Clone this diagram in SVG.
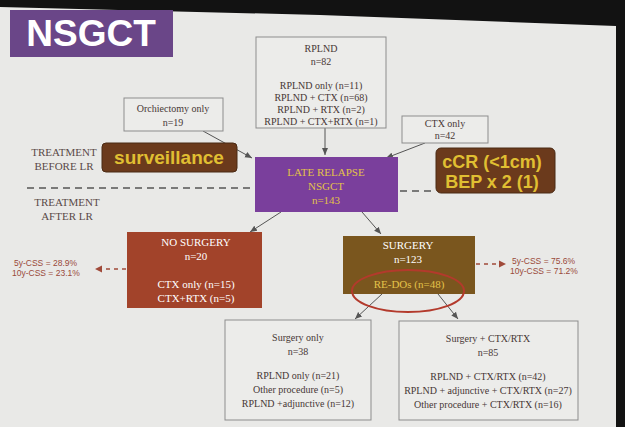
<svg xmlns="http://www.w3.org/2000/svg" width="625" height="427" viewBox="0 0 625 427">
<defs>
<style>
.t{font-family:"Liberation Serif",serif;font-size:10px;fill:#473735;text-anchor:middle}
.lbl{font-family:"Liberation Serif",serif;font-size:11px;fill:#5a4a48;text-anchor:middle}
.wb{fill:#ececea;stroke:#8d8d8d;stroke-width:1}
.w{font-family:"Liberation Serif",serif;font-size:11px;fill:#ffffff;text-anchor:middle}
.g{font-family:"Liberation Serif",serif;font-size:11px;fill:#e3c24a;text-anchor:middle}
.big{font-family:"Liberation Sans",Arial,sans-serif;font-weight:bold;fill:#e0bf32;text-anchor:middle}
.css{font-family:"Liberation Sans",Arial,sans-serif;font-size:8.5px;fill:#9a4a3a}
.c{stroke:#555;stroke-width:1;fill:none;marker-end:url(#ah)}
.d{stroke:#555;stroke-width:1.6;stroke-dasharray:7,5;fill:none}
.dr{stroke:#a04a3a;stroke-width:1.6;stroke-dasharray:4,4;fill:none}
</style>
<marker id="ah" markerWidth="8" markerHeight="8" refX="7" refY="4" orient="auto" markerUnits="userSpaceOnUse">
<path d="M0,1 L7,4 L0,7 Z" fill="#555"/>
</marker>
<marker id="ahr" markerWidth="8" markerHeight="8" refX="7" refY="4" orient="auto" markerUnits="userSpaceOnUse">
<path d="M0,0.5 L7,4 L0,7.5 Z" fill="#a04a3a"/>
</marker>
</defs>
<rect width="625" height="427" fill="#e9e9e7"/>
<path d="M0,0 H625 V427 H616 V26 L320,15 L0,7 Z" fill="#121212"/>

<g id="title">
<rect x="10" y="10" width="163" height="47" fill="#6a4688"/>
<text x="91" y="46" font-family="Liberation Sans,Arial,sans-serif" font-weight="bold" font-size="37" fill="#ffffff" text-anchor="middle">NSGCT</text>
</g>

<g id="labels">
<text class="lbl" x="64" y="156">TREATMENT</text>
<text class="lbl" x="64" y="170">BEFORE LR</text>
<text class="lbl" x="67" y="206">TREATMENT</text>
<text class="lbl" x="67" y="220">AFTER LR</text>
</g>

<g id="connectors">
<path class="d" d="M27,188 H252"/>
<path class="d" d="M400,191 H436"/>
<path class="c" d="M325,128 V155"/>
<path class="c" d="M203,131 L252,158"/>
<path class="c" d="M425,143 L386,158"/>
<path class="c" d="M281,212 L250,232"/>
<path class="c" d="M362,212 L381,234"/>
<path class="c" d="M382,294 L355,319"/>
<path class="c" d="M438,294 L458,319"/>
<path class="dr" d="M126,269 H95" marker-end="url(#ahr)"/>
<path class="dr" d="M476,264 H506" marker-end="url(#ahr)"/>
</g>

<g id="rplnd">
<rect class="wb" x="256" y="37" width="130" height="91"/>
<text class="t" x="321" y="52">RPLND</text>
<text class="t" x="321" y="65">n=82</text>
<text class="t" x="321" y="89">RPLND only (n=11)</text>
<text class="t" x="321" y="101">RPLND + CTX (n=68)</text>
<text class="t" x="321" y="113">RPLND + RTX (n=2)</text>
<text class="t" x="321" y="125">RPLND + CTX+RTX (n=1)</text>
</g>

<g id="orchiectomy">
<rect class="wb" x="124" y="98" width="99" height="33"/>
<text class="t" x="173" y="112">Orchiectomy only</text>
<text class="t" x="173" y="126">n=19</text>
</g>

<g id="ctxonly">
<rect class="wb" x="402" y="116" width="86" height="27"/>
<text class="t" x="445" y="127">CTX only</text>
<text class="t" x="445" y="139">n=42</text>
</g>

<g id="surveillance">
<rect x="102" y="143" width="135" height="29" rx="4" fill="#6b3a1c" stroke="#4a2a14"/>
<text class="big" x="169" y="164" font-size="19">surveillance</text>
</g>

<g id="ccr">
<rect x="436" y="148" width="119" height="45" rx="5" fill="#6b3a1c" stroke="#4a2a14"/>
<text class="big" x="492" y="168" font-size="18">cCR (&lt;1cm)</text>
<text class="big" x="492" y="188" font-size="18">BEP x  2 (1)</text>
</g>

<g id="laterelapse">
<rect x="255" y="157" width="143" height="55" fill="#7a3f9c"/>
<text class="g" x="326" y="176">LATE RELAPSE</text>
<text class="g" x="326" y="190">NSGCT</text>
<text class="g" x="326" y="204">n=143</text>
</g>

<g id="nosurgery">
<rect x="127" y="232" width="135" height="76" fill="#a2432a"/>
<text class="w" x="196" y="246">NO SURGERY</text>
<text class="w" x="196" y="260">n=20</text>
<text class="w" x="196" y="288">CTX only (n=15)</text>
<text class="w" x="196" y="302">CTX+RTX (n=5)</text>
</g>

<g id="surgery">
<rect x="343" y="236" width="132" height="58" fill="#7a561e"/>
<text class="w" x="408" y="249">SURGERY</text>
<text class="w" x="408" y="263">n=123</text>
<text class="g" x="409" y="288">RE-DOs (n=48)</text>
<ellipse cx="408" cy="291" rx="56" ry="21" fill="none" stroke="#b33a2c" stroke-width="2"/>
</g>

<g id="css">
<text class="css" x="14" y="266">5y-CSS = 28.9%</text>
<text class="css" x="12" y="276">10y-CSS = 23.1%</text>
<text class="css" x="512" y="264">5y-CSS = 75.6%</text>
<text class="css" x="510" y="274">10y-CSS = 71.2%</text>
</g>

<g id="surgeryonly">
<rect class="wb" x="225" y="320" width="146" height="100"/>
<text class="t" x="298" y="341">Surgery only</text>
<text class="t" x="298" y="355">n=38</text>
<text class="t" x="298" y="379">RPLND only (n=21)</text>
<text class="t" x="298" y="393">Other procedure (n=5)</text>
<text class="t" x="298" y="407">RPLND +adjunctive (n=12)</text>
</g>

<g id="surgeryctx">
<rect class="wb" x="399" y="321" width="179" height="99"/>
<text class="t" x="488" y="342">Surgery + CTX/RTX</text>
<text class="t" x="488" y="356">n=85</text>
<text class="t" x="488" y="380">RPLND + CTX/RTX (n=42)</text>
<text class="t" x="488" y="394">RPLND + adjunctive + CTX/RTX (n=27)</text>
<text class="t" x="488" y="408">Other procedure + CTX/RTX (n=16)</text>
</g>
</svg>
